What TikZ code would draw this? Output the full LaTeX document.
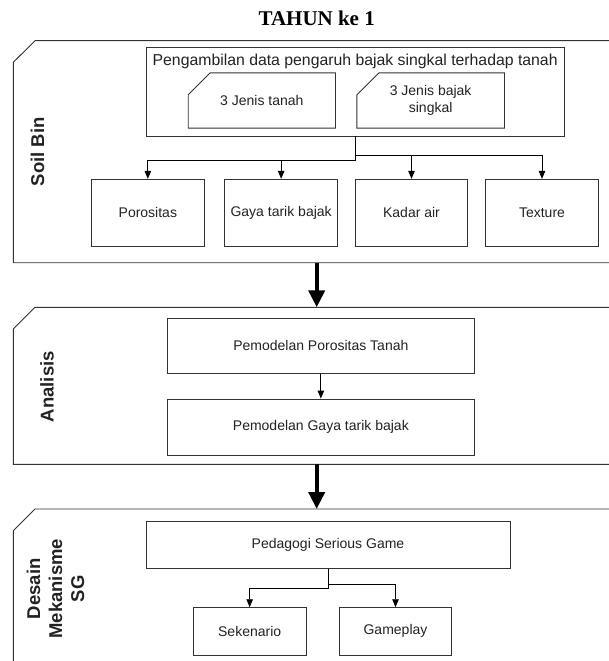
\documentclass[tikz,border=0pt]{standalone}
\usepackage{fontspec}
\setmainfont{Liberation Sans}
\newfontfamily\titlefont{Liberation Serif}
\usetikzlibrary{arrows.meta}
\definecolor{edgegray}{HTML}{333333}
\definecolor{textgray}{HTML}{222222}

\begin{document}
\begin{tikzpicture}[x=1pt,y=-1pt,
    box/.style={draw=edgegray,line width=0.9pt,inner sep=0pt,text=textgray,
      font=\fontsize{14}{17}\selectfont,align=center},
    lane/.style={draw=edgegray,line width=0.9pt},
    lanelbl/.style={rotate=90,text=textgray,align=center,
      font=\fontsize{18.5}{22}\selectfont\bfseries},
    arr/.style={draw=black,line width=0.9pt,-{Triangle[width=6.5pt,length=8pt]}},
    bigarr/.style={draw=black,line width=4pt,-{Triangle[width=16pt,length=17pt]}}]
    \clip (0,0) rectangle (609,661);
    % --- title ---
    \node[font=\titlefont\fontsize{21}{24}\selectfont\bfseries] (title) at (316.7,18.3) {TAHUN ke 1};
    % --- the three lanes, open on the right ---
    \draw[lane] (620,40.7) -- (35,40.7) -- (13.3,62.3) -- (13.3,262.7) -- (620,262.7);
    \draw[lane] (620,307.3) -- (35,307.3) -- (13.3,329) -- (13.3,464.3) -- (620,464.3);
    \draw[lane] (620,509) -- (35,509) -- (13.3,530.7) -- (13.3,670);
    \node[lanelbl] (soilLbl) at (37.5,151.7) {Soil Bin};
    \node[lanelbl] (anaLbl) at (47,386.7) {Analisis};
    \node[lanelbl] (sgLbl) at (55.5,588.7) {Desain\\Mekanisme\\SG};
    % --- lane 1: soil bin ---
    \node[box,minimum width=418.3pt,minimum height=88.3pt] (ambil) at (355.15,91.85) {};
    \node[text=textgray,font=\fontsize{15.8}{18}\selectfont,inner sep=0pt] (ambilLbl) at (355.15,61.7)
      {Pengambilan data pengaruh bajak singkal terhadap tanah};
    \node[box,draw=none,minimum width=146.3pt,minimum height=54.4pt] (tanah) at (261.85,100.5) {3 Jenis tanah};
    \node[box,draw=none,minimum width=146.7pt,minimum height=54.4pt] (bajak) at (430.65,100.5) {3 Jenis bajak\\singkal};
    \foreach \c in {tanah,bajak}
      \draw[lane] ([xshift=22pt]\c.north west) -- (\c.north east) -- (\c.south east)
        -- (\c.south west) -- ([yshift=-22pt]\c.north west) -- cycle;
    \foreach \nm/\cx/\txt in {poro/147.85/Porositas, gaya/281.15/Gaya tarik bajak,
        kadar/411.5/Kadar air, tex/542/Texture}
      \node[box,minimum width=112.5pt,minimum height=66.7pt] (\nm) at (\cx,212.65) {\txt};
    \coordinate (busR) at ([yshift=-19pt]ambil.south);
    \coordinate (busL) at ([yshift=-23.5pt]ambil.south);
    \draw[arr] (ambil.south) -- (busL) -| (poro.north);
    \draw[arr] (ambil.south) -- (busL) -| (gaya.north);
    \draw[arr] (ambil.south) -- (busR) -| (kadar.north);
    \draw[arr] (ambil.south) -- (busR) -| (tex.north);
    % --- lane 2: analisis ---
    \node[box,minimum width=306.3pt,minimum height=55pt] (modelPor) at (320.85,345.8) {Pemodelan Porositas Tanah};
    \node[box,minimum width=306.3pt,minimum height=56pt] (modelGaya) at (320.85,427) {Pemodelan Gaya tarik bajak};
    \draw[arr] (modelPor) -- (modelGaya);
    % --- lane 3: desain mekanisme SG ---
    \node[box,minimum width=364pt,minimum height=47.3pt] (pedagogi) at (328,544.65) {Pedagogi Serious Game};
    \node[box,minimum width=112.7pt,minimum height=47.3pt] (skenario) at (249.65,631.35) {Sekenario};
    \node[box,minimum width=112.4pt,minimum height=47.3pt] (gameplay) at (395.5,631.35) {Gameplay};
    \coordinate (splitR) at ([yshift=-15.7pt]pedagogi.south);
    \coordinate (splitL) at ([yshift=-20pt]pedagogi.south);
    \draw[arr] (pedagogi.south) -- (splitL) -| (skenario.north);
    \draw[arr] (pedagogi.south) -- (splitR) -| (gameplay.north);
    % --- flow between lanes ---
    \coordinate (soilBot) at (316.7,262.7);
    \coordinate (anaTop) at (316.7,307.3);
    \coordinate (anaBot) at (316.7,464.3);
    \coordinate (sgTop) at (316.7,509);
    \draw[bigarr] (soilBot) -- (anaTop);
    \draw[bigarr] (anaBot) -- (sgTop);
  \end{tikzpicture}
\end{document}
